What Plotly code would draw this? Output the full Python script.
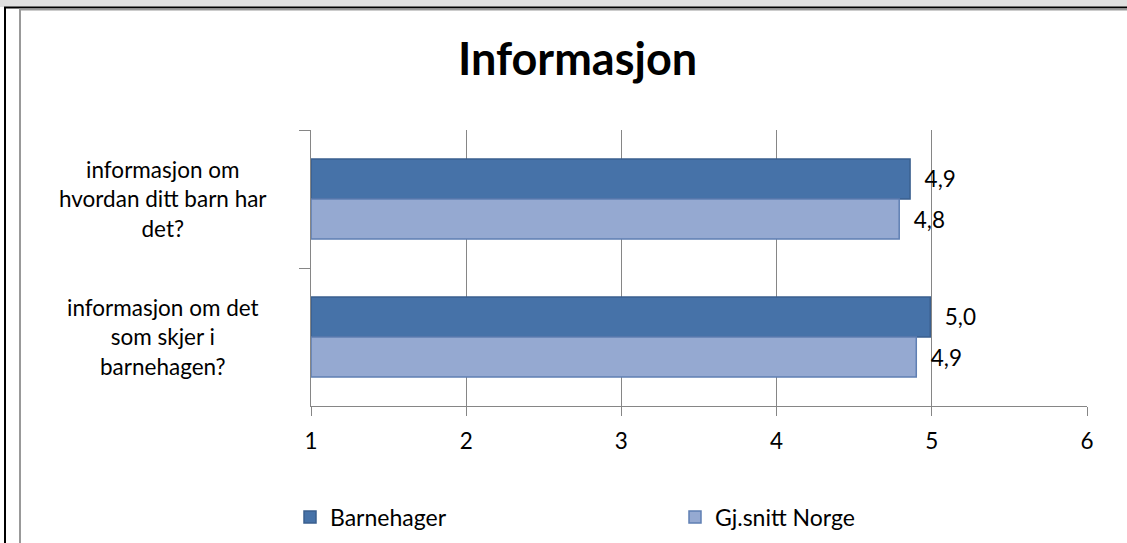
import plotly.graph_objects as go

# Survey scores (scale 1-6)
categories = [
    "informasjon om hvordan ditt barn har det?",
    "informasjon om det som skjer i barnehagen?",
]
category_lines = [
    "informasjon om<br>hvordan ditt barn har<br>det?",
    "informasjon om det<br>som skjer i<br>barnehagen?",
]
series_names = ["Barnehager", "Gj.snitt Norge"]
barnehager = [4.86, 4.99]
gjsnitt_norge = [4.79, 4.90]
x_ticks = [1, 2, 3, 4, 5, 6]

FONT = "Lato, 'Open Sans', sans-serif"
FS = 22.5
W, H = 1127, 543
L, R, T, B = 311, 40, 130, 137
PW, PH = W - L - R, H - T - B


def px_x(p):
    return (p - L) / PW


def px_y(p):
    return (H - B - p) / PH


fig = go.Figure()
styles = [
    dict(color="#4672A8", line=dict(color="#3A5F8E", width=1.5)),
    dict(color="#95A9D1", line=dict(color="#5F7FB3", width=1.5)),
]
NB = "\u00a0"
for name, vals, st in zip(series_names, [barnehager, gjsnitt_norge], styles):
    fig.add_trace(go.Bar(
        y=categories, x=[v - 1 for v in vals], base=1, orientation="h",
        name=name, marker=st,
        text=[NB * 2 + f"{v:.1f}".replace(".", ",") for v in vals],
        textposition="outside", cliponaxis=False,
        textfont=dict(family=FONT, size=FS, color="#000000"),
        hoverinfo="skip",
    ))

fig.update_layout(
    width=W, height=H,
    margin=dict(l=L, r=R, t=T, b=B, autoexpand=False),
    paper_bgcolor="white", plot_bgcolor="white",
    barmode="group", bargap=0.42, bargroupgap=0,
    font=dict(family=FONT, size=FS, color="#000000"),
    showlegend=True,
    legend=dict(
        orientation="h", xref="container", yref="container",
        x=290 / W, xanchor="left", y=1 - 517 / H, yanchor="middle",
        font=dict(family=FONT, size=23), entrywidth=340, entrywidthmode="pixels",
        itemwidth=30, bgcolor="rgba(0,0,0,0)",
    ),
    xaxis=dict(
        range=[1, 6], tickvals=x_ticks, ticktext=[str(t) for t in x_ticks],
        showgrid=True, gridcolor="#868686", gridwidth=1.3,
        showline=True, linecolor="#868686", linewidth=1.3,
        ticks="outside", ticklen=9, tickcolor="#868686", tickwidth=1.3,
        ticklabelstandoff=6, automargin=False,
        tickfont=dict(family=FONT, size=FS), zeroline=False, fixedrange=True,
    ),
    yaxis=dict(
        autorange="reversed", showticklabels=False, automargin=False,
        showline=True, linecolor="#868686", linewidth=1.3,
        ticks="outside", ticklen=11, tickcolor="#868686", tickwidth=1.3,
        tickson="boundaries", showgrid=False, fixedrange=True,
    ),
)

# Category labels, centered as a text block left of the axis
for cat, lab in zip(categories, category_lines):
    fig.add_annotation(
        x=px_x(163), xref="paper", y=cat, yref="y", text=lab, showarrow=False,
        align="center", xanchor="center", yanchor="middle",
        font=dict(family=FONT, size=FS, color="#000000"),
    )

# Title
fig.add_annotation(
    x=px_x(577), xref="paper", y=px_y(58), yref="paper", text="<b>Informasjon</b>",
    showarrow=False, xanchor="center", yanchor="middle",
    font=dict(family=FONT, size=45, color="#000000"),
)

# Sheet frame: gray strip at the top, black outer edge, gray inner edge
shapes = [
    dict(type="rect", x0=px_x(0), x1=px_x(W), y0=px_y(0), y1=px_y(7),
         fillcolor="#E0E0E0", line=dict(width=0)),
    dict(type="line", x0=px_x(4), x1=px_x(W), y0=px_y(7.5), y1=px_y(7.5),
         line=dict(color="#000000", width=2)),
    dict(type="line", x0=px_x(19), x1=px_x(W), y0=px_y(9.5), y1=px_y(9.5),
         line=dict(color="#999999", width=2)),
    dict(type="line", x0=px_x(5), x1=px_x(5), y0=px_y(7), y1=px_y(H),
         line=dict(color="#000000", width=2)),
    dict(type="line", x0=px_x(20), x1=px_x(20), y0=px_y(9), y1=px_y(H),
         line=dict(color="#999999", width=2)),
]
for s in shapes:
    s.update(xref="paper", yref="paper", layer="above")
fig.update_layout(shapes=shapes)

# Keep the page itself from scrolling
page_js = (
    "document.documentElement.style.overflow='hidden';"
    "document.body.style.overflow='hidden';document.body.style.margin='0';"
)
fig.write_html("out.html", config={"displayModeBar": False}, post_script=page_js)
